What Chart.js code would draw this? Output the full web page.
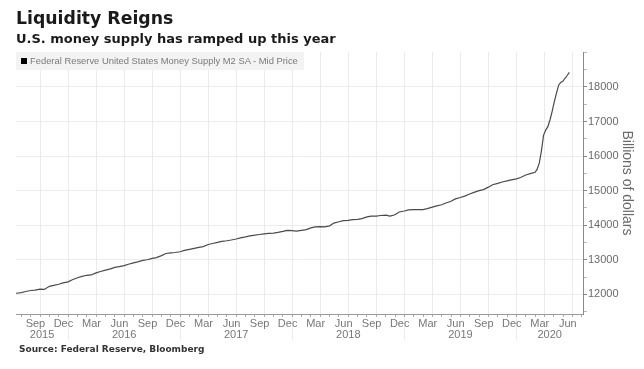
<!DOCTYPE html>
<html>
<head>
<meta charset="utf-8">
<script src="https://cdn.jsdelivr.net/npm/chart.js@4/dist/chart.umd.min.js"></script>
<style>
  html, body { margin:0; padding:0; background:#fff; }
  #wrap { position:relative; width:644px; height:369px; overflow:hidden; }
  canvas { position:absolute; left:0; top:0; }
  .ttl { position:absolute; left:16px; top:8px; font:bold 17.3px "DejaVu Sans", sans-serif; color:#1a1a1a; white-space:nowrap; }
  .sub { position:absolute; left:16px; top:31px; font:bold 13px "DejaVu Sans", sans-serif; color:#1a1a1a; white-space:nowrap; }
  .leg { position:absolute; left:16px; top:52px; width:288px; height:18px; background:#f3f3f3; font:9.4px "Liberation Sans", sans-serif; color:#7a7a7a; line-height:18px; white-space:nowrap; }
  .leg i { display:inline-block; width:6px; height:6px; background:#000; margin:0 3px 0 5px; vertical-align:0px; }
  .src { position:absolute; left:19px; top:344px; font:bold 9px "DejaVu Sans", sans-serif; color:#333; white-space:nowrap; }
</style>
</head>
<body>
<div id="wrap">
  <canvas id="c" width="644" height="369"></canvas>
  <div class="ttl">Liquidity Reigns</div>
  <div class="sub">U.S. money supply has ramped up this year</div>
  <div class="leg"><i></i>Federal Reserve United States Money Supply M2 SA - Mid Price</div>
  <div class="src">Source: Federal Reserve, Bloomberg</div>
</div>
<script>
// ---- data ----
const dates = [
  '2015-07-14','2015-08-01','2015-08-15','2015-09-01','2015-09-15','2015-10-01','2015-10-15','2015-11-01','2015-11-15','2015-12-01','2015-12-15',
  '2016-01-01','2016-01-15','2016-02-01','2016-02-15','2016-03-01','2016-03-15','2016-04-01','2016-04-15','2016-05-01','2016-05-15','2016-06-01','2016-06-15',
  '2016-07-01','2016-07-15','2016-08-01','2016-08-15','2016-09-01','2016-09-15','2016-10-01','2016-10-15','2016-11-01','2016-11-15','2016-12-01','2016-12-15',
  '2017-01-01','2017-01-15','2017-02-01','2017-02-15','2017-03-01','2017-03-15','2017-04-01','2017-04-15','2017-05-01','2017-05-15','2017-06-01','2017-06-15',
  '2017-07-01','2017-07-15','2017-08-01','2017-08-15','2017-09-01','2017-09-15','2017-10-01','2017-10-15','2017-11-01','2017-11-15','2017-12-01','2017-12-15',
  '2018-01-01','2018-01-15','2018-02-01','2018-02-15','2018-03-01','2018-03-15','2018-04-01','2018-04-15','2018-05-01','2018-05-15','2018-06-01','2018-06-15',
  '2018-07-01','2018-07-15','2018-08-01','2018-08-15','2018-09-01','2018-09-15','2018-10-01','2018-10-15','2018-11-01','2018-11-15','2018-12-01','2018-12-15',
  '2019-01-01','2019-01-15','2019-02-01','2019-02-15','2019-03-01','2019-03-15','2019-04-01','2019-04-15','2019-05-01','2019-05-15','2019-06-01','2019-06-15',
  '2019-07-01','2019-07-15','2019-08-01','2019-08-15','2019-09-01','2019-09-15','2019-10-01','2019-10-15','2019-11-01','2019-11-15','2019-12-01','2019-12-15',
  '2020-01-01','2020-01-15','2020-02-01','2020-02-15','2020-03-01','2020-03-08','2020-03-15','2020-03-22','2020-03-29',
  '2020-04-05','2020-04-12','2020-04-19','2020-04-26','2020-05-03','2020-05-10','2020-05-17','2020-05-24','2020-05-31',
  '2020-06-07','2020-06-14','2020-06-21'
];
const m2Supply = [
  12030,12050,12080,12110,12120,12150,12140,12230,12260,12290,12330,
  12360,12420,12480,12520,12550,12560,12620,12660,12700,12730,12780,12800,
  12830,12870,12910,12940,12980,13000,13040,13060,13120,13180,13200,13210,
  13230,13270,13300,13330,13360,13380,13440,13470,13500,13530,13550,13570,
  13600,13630,13660,13690,13710,13730,13750,13760,13770,13790,13820,13850,
  13840,13830,13850,13870,13920,13950,13960,13950,13980,14060,14100,14130,
  14140,14160,14170,14190,14240,14260,14260,14280,14290,14260,14300,14380,
  14410,14440,14450,14450,14450,14480,14520,14560,14590,14640,14690,14760,
  14800,14840,14900,14950,15000,15030,15100,15170,15210,15250,15280,15310,
  15340,15380,15450,15490,15530,15620,15800,16150,16600,
  16750,16850,17050,17300,17580,17820,18050,18130,18160,
  18250,18330,18420
];
const monthNames = ['Jan','Feb','Mar','Apr','May','Jun','Jul','Aug','Sep','Oct','Nov','Dec'];
const labelMonths = [2, 5, 8, 11];           // Mar, Jun, Sep, Dec
const years = [2015, 2016, 2017, 2018, 2019, 2020];
const yLabelTicks = [12000, 13000, 14000, 15000, 16000, 17000, 18000];
const xRange = ['2015-07-14', '2020-08-05'];
const yRange = [11430, 19010];

// ---- helpers ----
const BASE = 2015;
function toM(s) {
  const [y, mo, d] = s.split('-').map(Number);
  const dim = new Date(y, mo, 0).getDate();
  return (y - BASE) * 12 + (mo - 1) + (d - 1) / dim;
}
const xMin = toM(xRange[0]), xMax = toM(xRange[1]);
const points = dates.map((d, i) => ({ x: toM(d), y: m2Supply[i] }));

const tickFont = { family: '"Liberation Sans", sans-serif', size: 11 };
const tickColor = '#777';

new Chart(document.getElementById('c'), {
  type: 'line',
  data: {
    datasets: [{
      data: points,
      xAxisID: 'x', yAxisID: 'y',
      borderColor: '#4a4a4a', borderWidth: 1.2,
      pointRadius: 0, tension: 0, fill: false
    }]
  },
  options: {
    responsive: false, animation: false,
    layout: { padding: { left: 16, top: 52, right: 0, bottom: 26 } },
    plugins: { legend: { display: false }, tooltip: { enabled: false } },
    scales: {
      x: {
        type: 'linear', position: 'bottom', weight: 0, min: xMin, max: xMax, bounds: 'data',
        afterBuildTicks: s => {
          const t = [];
          for (let m = Math.ceil(s.min); m <= s.max; m++) t.push({ value: m });
          s.ticks = t;
        },
        ticks: { display: false },
        grid: {
          color: c => (c.tick && c.tick.value % 3 === 0) ? '#ebebeb' : 'rgba(0,0,0,0)',
          tickColor: '#aaa', tickLength: 3
        },
        border: { display: true, color: '#9a9a9a' },
        afterFit: s => { s.height = 3; }
      },
      xl: {
        type: 'linear', position: 'bottom', weight: 1, min: xMin, max: xMax, bounds: 'data',
        afterBuildTicks: s => {
          const t = [];
          for (const y of years) {
            for (const mo of labelMonths) {
              const v = (y - BASE) * 12 + mo + 0.5;
              if (v >= s.min && v <= s.max) t.push({ value: v });
            }
            const b = (y - BASE) * 12;
            if (b > s.min && b < s.max) t.push({ value: b });
          }
          t.sort((a, b) => a.value - b.value);
          s.ticks = t;
        },
        ticks: {
          autoSkip: false, maxRotation: 0, font: tickFont, color: tickColor, padding: -24,
          callback: v => Number.isInteger(v) ? '' : monthNames[Math.floor(v) % 12]
        },
        grid: {
          drawOnChartArea: false, tickLength: 24,
          color: c => (c.tick && Number.isInteger(c.tick.value)) ? '#ececec' : 'rgba(0,0,0,0)'
        },
        border: { display: false },
        afterFit: s => { s.height = 12; }
      },
      xy: {
        type: 'linear', position: 'bottom', weight: 2, min: xMin, max: xMax, bounds: 'data',
        afterBuildTicks: s => {
          s.ticks = years.map(y => {
            const a = Math.max(s.min, (y - BASE) * 12), b = Math.min(s.max, (y - BASE + 1) * 12);
            return { value: (a + b) / 2 };
          });
        },
        ticks: {
          autoSkip: false, maxRotation: 0, font: tickFont, color: tickColor, padding: -1,
          callback: (v, i) => String(years[i])
        },
        grid: { display: false, drawTicks: false, tickLength: 0 },
        border: { display: false },
        afterFit: s => { s.height = 14; }
      },
      y: {
        type: 'linear', position: 'right', min: yRange[0], max: yRange[1], bounds: 'data',
        afterBuildTicks: s => {
          const t = [];
          for (let v = Math.ceil(s.min / 500) * 500; v <= s.max; v += 500) t.push({ value: v });
          s.ticks = t;
        },
        ticks: {
          font: tickFont, color: '#6a6a6a', padding: 1,
          callback: v => yLabelTicks.includes(v) ? String(v) : ''
        },
        grid: {
          color: c => (c.tick && yLabelTicks.includes(c.tick.value)) ? '#ececec' : 'rgba(0,0,0,0)',
          tickColor: c => (c.tick && yLabelTicks.includes(c.tick.value)) ? '#888' : '#bbb',
          tickLength: 4
        },
        border: { display: true, color: '#8a8a8a' },
        title: {
          display: true, text: 'Billions of dollars', color: '#6a6a6a',
          font: { family: '"Liberation Sans", sans-serif', size: 14 }, padding: { top: 9, bottom: 0 }
        },
        afterFit: s => { s.width = 61; }
      }
    }
  }
});
</script>
</body>
</html>
